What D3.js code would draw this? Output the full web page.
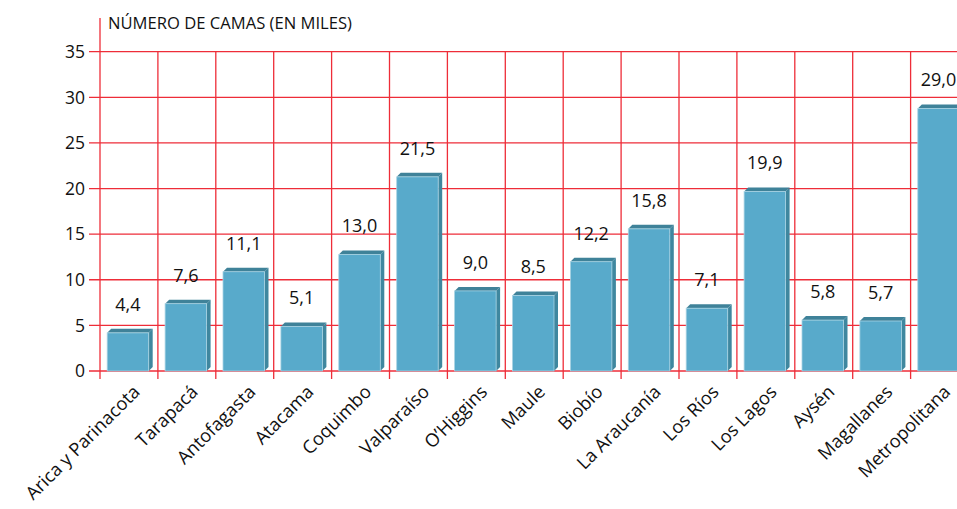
<!DOCTYPE html>
<html><head><meta charset="utf-8">
<script src="https://cdn.jsdelivr.net/npm/d3@7"></script>
<style>
html,body{margin:0;padding:0;background:#fff;}
svg{display:block;font-family:"Open Sans",sans-serif;}
</style></head>
<body><svg id="c" width="957" height="509"></svg>
<script>
const categories = ["Arica y Parinacota","Tarapacá","Antofagasta","Atacama","Coquimbo","Valparaíso","O’Higgins","Maule","Biobío","La Araucanía","Los Ríos","Los Lagos","Aysén","Magallanes","Metropolitana"];
const values = [4.4, 7.6, 11.1, 5.1, 13.0, 21.5, 9.0, 8.5, 12.2, 15.8, 7.1, 19.9, 5.8, 5.7, 29.0];
const yTicks = [0, 5, 10, 15, 20, 25, 30, 35];
const title = "NÚMERO DE CAMAS (EN MILES)";

const svg = d3.select("#c");
const W = 957;
const x0 = 100, step = 57.9;
const x = d3.scaleBand().domain(categories).range([x0, x0 + step * categories.length]).paddingInner(0).paddingOuter(0);
const y = d3.scaleLinear().domain([0, 35]).range([371, 51.7]);
const grid = "#ee2d38";
const fmt = v => d3.format(".1f")(v).replace(".", ",");

// horizontal gridlines
svg.append("g").selectAll("line").data(yTicks).join("line")
  .attr("x1", 89).attr("x2", W).attr("y1", d => y(d)).attr("y2", d => y(d))
  .attr("stroke", grid).attr("stroke-width", 1.3);
// vertical gridlines
svg.append("g").selectAll("line").data(categories).join("line")
  .attr("x1", d => x(d)).attr("x2", d => x(d))
  .attr("y1", (d, i) => i === 0 ? 18 : y(35)).attr("y2", y(0) + 8)
  .attr("stroke", grid).attr("stroke-width", 1.3);

// y tick labels
svg.append("g").selectAll("text").data(yTicks).join("text")
  .attr("x", 85).attr("y", d => y(d)).attr("dy", "0.36em")
  .attr("text-anchor", "end").attr("font-size", 17.5).attr("fill", "#111")
  .text(d => d);

// title
svg.append("text").attr("x", 108).attr("y", 28.5).attr("font-size", 16.6).attr("fill", "#111").text(title);

// bars
const off = 7.2, bw = 41.5, dep = 4;
const bars = svg.append("g").selectAll("g").data(values).join("g");
bars.append("path").attr("fill", "#3f879f").attr("d", (v, i) => {
  const a = x(categories[i]) + off + bw, yt = y(v) + 2, yb = y(0);
  return `M${a},${yt}L${a+dep},${yt-dep}L${a+dep},${yb-dep}L${a},${yb}Z`;
});
bars.append("path").attr("fill", "#3f8299").attr("d", (v, i) => {
  const a = x(categories[i]) + off, yt = y(v) + 2;
  return `M${a},${yt}L${a+bw},${yt}L${a+bw+dep},${yt-dep}L${a+dep},${yt-dep}Z`;
});
bars.append("rect").attr("fill", "#58aacb").attr("stroke", "#a8d3e3").attr("stroke-width", 0.8)
  .attr("x", (v, i) => x(categories[i]) + off).attr("y", v => y(v) + 2)
  .attr("width", bw).attr("height", v => y(0) - y(v) - 2);

// value labels
svg.append("g").selectAll("text").data(values).join("text")
  .attr("x", (v, i) => x(categories[i]) + off + bw / 2).attr("y", v => y(v) - 20)
  .attr("text-anchor", "middle").attr("font-size", 18).attr("fill", "#111")
  .text(fmt);

// x labels
svg.append("g").selectAll("text").data(categories).join("text")
  .attr("transform", d => `translate(${x(d) + x.bandwidth() / 2 + 12},${393}) rotate(-45)`)
  .attr("text-anchor", "end").attr("font-size", 18.3).attr("fill", "#111")
  .text(d => d);
</script></body></html>
